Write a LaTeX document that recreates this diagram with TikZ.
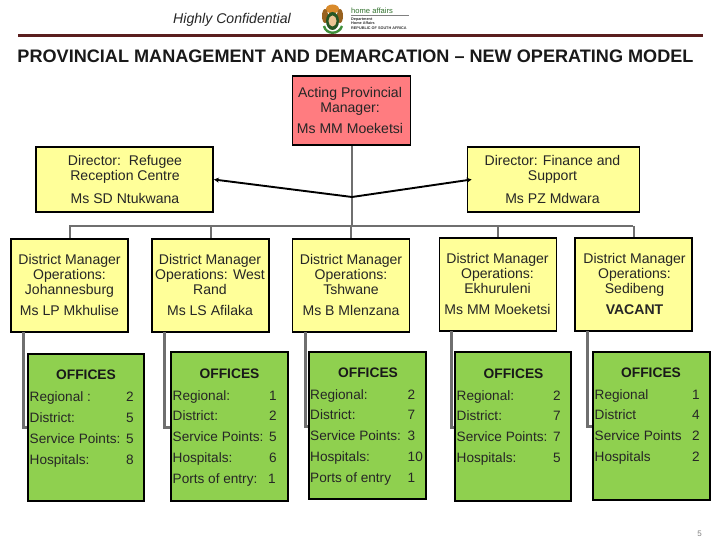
\documentclass[tikz,border=0pt]{standalone}
\usepackage{fontspec}
\setmainfont{Liberation Sans}
\usetikzlibrary{arrows.meta}
\definecolor{boxred}{HTML}{FF7C80}
\definecolor{boxyellow}{HTML}{FFFF99}
\definecolor{boxgreen}{HTML}{8FD04F}
\definecolor{rulebrown}{HTML}{5A1E1E}
\definecolor{linkgray}{HTML}{6F6F6F}
\definecolor{crestgreen}{HTML}{3F8F3A}
\definecolor{creston}{HTML}{D98A2B}
\newcommand{\boxat}[4]{(#1,#2) rectangle (#3,#4)}
\newcommand{\rowitem}[2]{\makebox[\numx][l]{#1}#2}
\newlength{\numx}
\tikzset{
  x=1pt,y=-1pt,
  txt/.style={font=\fontsize{14.05}{15.2}\selectfont,align=center,inner sep=0pt,text=black!85},
  redbox/.style={draw=black,line width=1.8pt,fill=boxred,minimum width=118pt,minimum height=69pt,inner sep=0pt},
  yellowbox/.style={draw=black,line width=1.8pt,fill=boxyellow,inner sep=0pt},
  greenbox/.style={draw=black,line width=1.8pt,fill=boxgreen,inner sep=0pt},
  dm/.style={yellowbox,minimum width=117pt,minimum height=93pt,txt},
  dir/.style={yellowbox,minimum height=65pt,txt},
  link/.style={draw=linkgray,line width=2pt},
  sidelink/.style={draw=linkgray,line width=3pt,line join=miter},
  arrowlink/.style={draw=black,line width=1.9pt,{Stealth[length=5pt,width=5pt]}-{Stealth[length=5pt,width=5pt]}},
  officehead/.style={font=\fontsize{13.8}{15}\selectfont\bfseries,inner sep=0pt,text=black!90},
  officelist/.style={font=\fontsize{13.6}{20.9}\selectfont,align=left,inner sep=0pt,anchor=north west,text=black!85},
}
\begin{document}
\begin{tikzpicture}
\useasboundingbox (0,0) rectangle (720,540);
\fill[white] (0,0) rectangle (720,540);
% header
\node[font=\fontsize{14.1}{15}\selectfont\itshape,inner sep=0pt,text=black!85] (conf) at (232,19.5) {Highly Confidential};
\coordinate (ruleL) at (18,35.5);
\coordinate (ruleR) at (703,35.5);
\draw[rulebrown,line width=2.4pt] (ruleL) -- (ruleR);
\node[font=\fontsize{18.1}{20}\selectfont\bfseries,inner sep=0pt,text=black!90] (title) at (355.5,56.5) {PROVINCIAL MANAGEMENT AND DEMARCATION – NEW OPERATING MODEL};
% logo
\fill[creston] (332.5,9) ellipse (6.5 and 4.5);
\fill[creston!70!black] (325,16) ellipse (3 and 7);
\fill[creston!70!black] (340,16) ellipse (3 and 7);
\fill[crestgreen!60!black] (332.5,21) ellipse (6.5 and 9);
\fill[creston!50!white] (332.5,21) ellipse (4 and 5.5);
\draw[crestgreen,line width=2.4pt] (324,26) .. controls (326,35) and (339,35) .. (342,26);
\node[font=\fontsize{7.6}{8}\selectfont,text=crestgreen!80!black,inner sep=0pt,anchor=west] (ha) at (351,11) {home affairs};
\draw[gray,line width=.6pt] (351,15.5) -- (409,15.5);
\node[font=\fontsize{3.8}{4.4}\selectfont\bfseries,align=left,inner sep=0pt,anchor=north west,text=black!80] (dept) at (351,17.5) {Department\\Home Affairs\\REPUBLIC OF SOUTH AFRICA};
% top
\node[redbox,txt] (pm) at (351.5,110.5) {};
\node[txt] (pmt) at (350,110.5) {Acting Provincial\\Manager:\\[5.5pt]Ms MM Moeketsi};
\node[dir,minimum width=177pt] (dl) at (124.5,179.5) {};
\node[txt] (dlt) at (125,179.5) {Director:\ \ Refugee\\Reception Centre\\[8pt]Ms SD Ntukwana};
\node[dir,minimum width=172pt] (dr) at (553.5,179.5) {};
\node[txt] (drt) at (552.5,179.5) {Director: Finance and\\Support\\[8pt]Ms PZ Mdwara};
\coordinate (hub) at (352,197);
\coordinate (busT) at (352,226);
\coordinate (busL) at (69,226);
\coordinate (busR) at (633,226);
% district managers
\node[dm] (d1) at (69.5,285.5) {};
\node[dm] (d2) at (210.5,285.5) {};
\node[dm] (d3) at (351,285.5) {};
\node[dm] (d4) at (498,284.5) {};
\node[dm] (d5) at (633.5,284.5) {};
\node[txt] (d1t) at (69.5,285) {District Manager\\Operations:\\Johannesburg\\[5.5pt]Ms LP Mkhulise};
\node[txt] (d2t) at (210,285) {District Manager\\Operations: West\\Rand\\[5.5pt]Ms LS Afilaka};
\node[txt] (d3t) at (351,285) {District Manager\\Operations:\\Tshwane\\[5.5pt]Ms B Mlenzana};
\node[txt] (d4t) at (497.5,284) {District Manager\\Operations:\\Ekhuruleni\\[5.5pt]Ms MM Moeketsi};
\node[txt] (d5t) at (634.5,284) {District Manager\\Operations:\\Sedibeng\\[5.5pt]\textbf{VACANT}};
% anchors for offices boxes
\coordinate (g1) at (28,427); \coordinate (g2) at (171,427); \coordinate (g3) at (309,426); \coordinate (g4) at (455,427); \coordinate (g5) at (593,426);
\coordinate (s1) at (23,332); \coordinate (s2) at (164,332); \coordinate (s3) at (305,332); \coordinate (s4) at (451,331); \coordinate (s5) at (587,331);
% connectors
\draw[link] (pm.south) -- (pm.south |- busT);
\draw[link] (busL) -- (busR);
\foreach \n in {1,...,5} {\draw[link] (d\n.north |- busL) -- (d\n.north);}
\foreach \n in {1,...,5} {\draw[sidelink] (s\n) -- (s\n |- g\n) -- (g\n);}
\draw[arrowlink] (dl.east) -- (hub) -- ([xshift=5pt]dr.west);
% offices boxes
\draw[greenbox] \boxat{28}{354}{144}{501};
\draw[greenbox] \boxat{171}{352}{288}{501};
\draw[greenbox] \boxat{309}{352}{426}{499};
\draw[greenbox] \boxat{455}{352}{571}{501};
\draw[greenbox] \boxat{593}{352}{710}{500};
% office text
\node[officehead] (o1) at (86,375) {OFFICES};
\node[officehead] (o2) at (229.5,374) {OFFICES};
\node[officehead] (o3) at (368,373) {OFFICES};
\node[officehead] (o4) at (513.5,374) {OFFICES};
\node[officehead] (o5) at (651,373) {OFFICES};
\setlength{\numx}{96.5pt}
\node[officelist] (l1) at (29.5,391.5) {\rowitem{Regional :}{2}\\\rowitem{District:}{5}\\\rowitem{Service Points:}{5}\\\rowitem{Hospitals:}{8}};
\setlength{\numx}{96.5pt}
\node[officelist] (l2) at (172.5,390) {\rowitem{Regional:}{1}\\\rowitem{District:}{2}\\\rowitem{Service Points:}{5}\\\rowitem{Hospitals:}{6}\\\rowitem{Ports of entry:}{\hspace{-1pt}1}};
\setlength{\numx}{97.5pt}
\node[officelist] (l3) at (310,389) {\rowitem{Regional:}{2}\\\rowitem{District:}{7}\\\rowitem{Service Points:}{3}\\\rowitem{Hospitals:}{10}\\\rowitem{Ports of entry}{1}};
\setlength{\numx}{96.5pt}
\node[officelist] (l4) at (456.5,390) {\rowitem{Regional:}{2}\\\rowitem{District:}{7}\\\rowitem{Service Points:}{7}\\\rowitem{Hospitals:}{5}};
\setlength{\numx}{97.5pt}
\node[officelist] (l5) at (594.5,389) {\rowitem{Regional}{1}\\\rowitem{District}{4}\\\rowitem{Service Points}{2}\\\rowitem{Hospitals}{2}};
\node[font=\fontsize{8}{9}\selectfont,text=gray,inner sep=0pt] (pg) at (699.5,533.5) {5};
\end{tikzpicture}
\end{document}
